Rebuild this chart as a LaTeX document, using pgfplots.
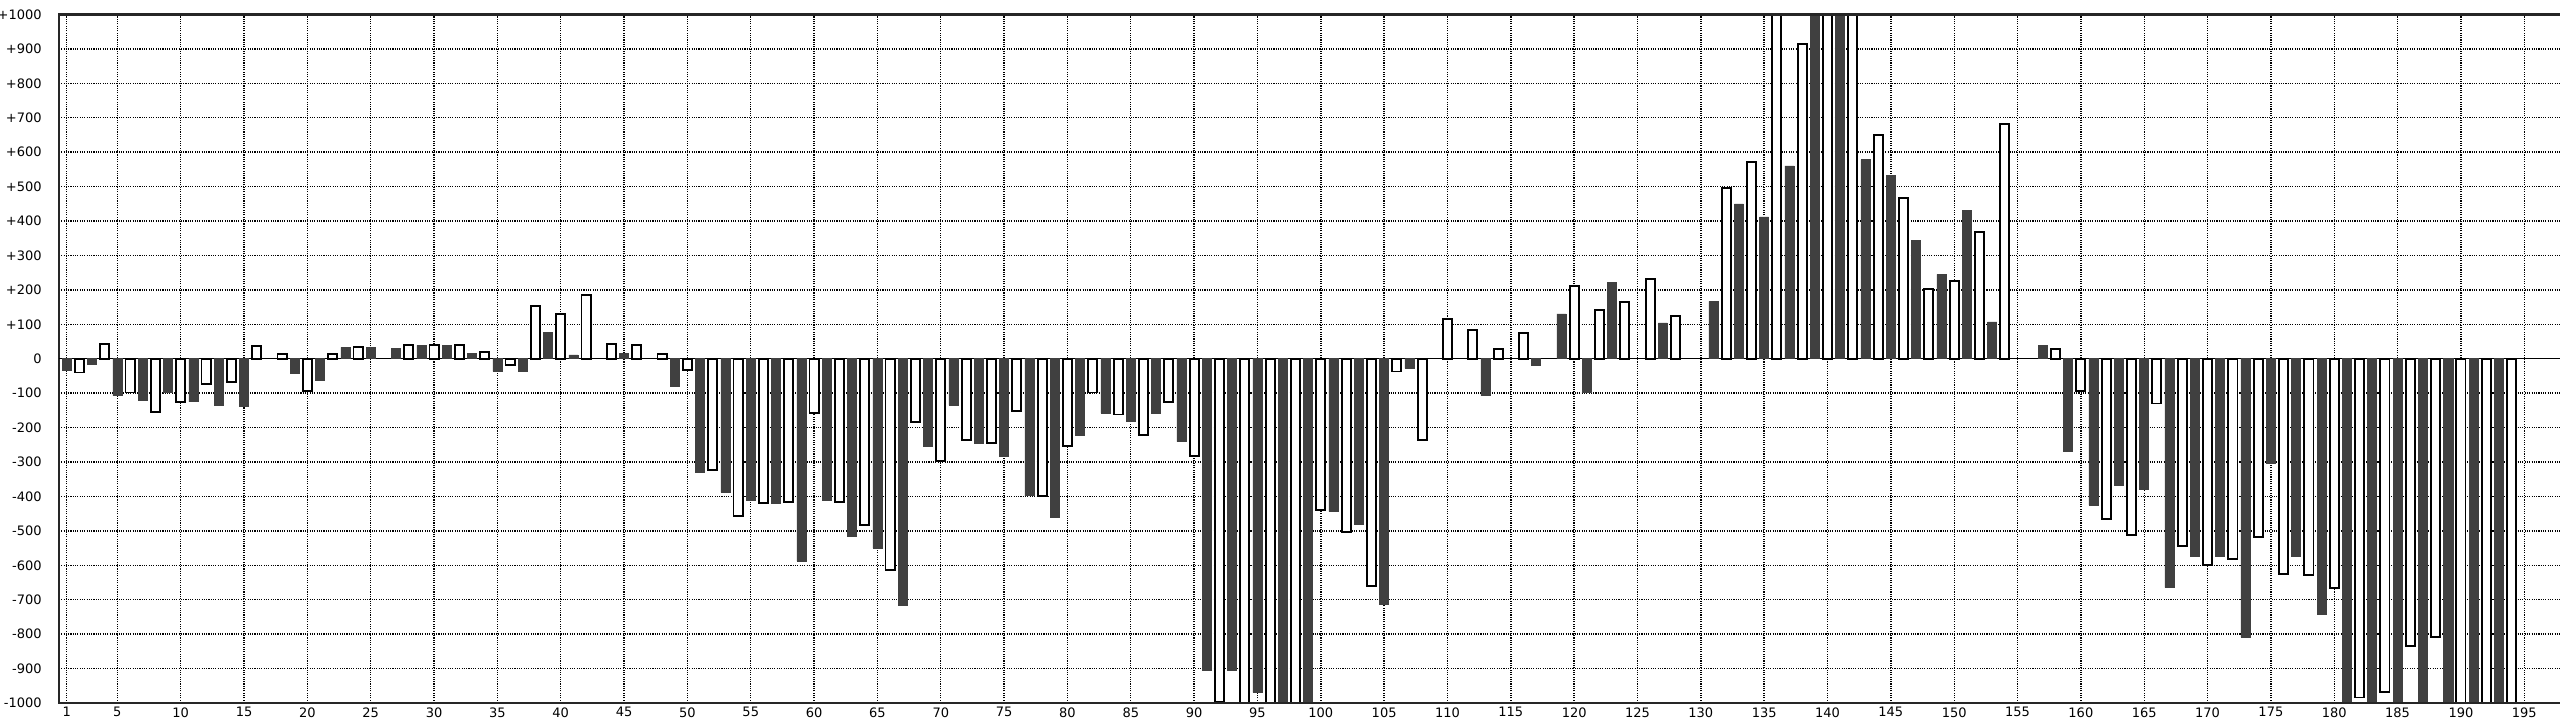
\documentclass[border=0pt]{standalone}
\usepackage{fontspec}
\setmainfont{DejaVu Sans}
\usepackage{pgfplots}
\pgfplotsset{compat=1.18}
\definecolor{darkbar}{RGB}{64,64,64}

\pgfplotstableread{
x y
1 -35
3 -16
5 -107
7 -120
9 -98
11 -125
13 -135
15 -139
19 -41
21 -62
23 33
25 33
27 29
29 39
31 39
33 15
35 -37
37 -37
39 76
41 11
45 16
49 -80
51 -329
53 -388
55 -412
57 -420
59 -588
61 -412
63 -517
65 -550
67 -716
69 -254
71 -135
73 -245
75 -282
77 -398
79 -462
81 -222
83 -158
85 -181
87 -158
89 -241
91 -905
93 -905
95 -969
97 -1100
99 -1100
101 -444
103 -481
105 -712
107 -28
113 -107
117 -20
119 130
121 -98
123 222
127 104
131 167
133 450
135 412
137 560
139 1100
141 1100
143 578
145 533
147 343
149 245
151 431
153 107
157 39
159 -269
161 -426
163 -369
165 -380
167 -665
169 -574
171 -574
173 -809
175 -305
177 -574
179 -743
181 -1100
183 -1100
185 -1100
187 -1100
189 -1100
191 -1100
193 -1100
}\darkdata

\pgfplotstableread{
x y
2 -40
4 43
6 -98
8 -154
10 -125
12 -74
14 -68
16 37
18 13
20 -94
22 13
24 33
28 39
30 39
32 39
34 19
36 -19
38 154
40 130
42 186
44 43
46 39
48 13
50 -32
52 -323
54 -456
56 -420
58 -415
60 -157
62 -415
64 -483
66 -613
68 -183
70 -296
72 -236
74 -245
76 -151
78 -398
80 -253
82 -98
84 -162
86 -221
88 -125
90 -282
92 -997
94 -1100
96 -1100
98 -1100
100 -439
102 -503
104 -660
106 -37
108 -236
110 115
112 83
114 27
116 74
120 212
122 142
124 166
126 232
128 124
132 497
134 572
136 1100
138 914
140 1100
142 1100
144 651
146 466
148 203
150 226
152 369
154 683
158 27
160 -94
162 -466
164 -513
166 -130
168 -545
170 -600
172 -581
174 -517
176 -624
178 -628
180 -665
182 -984
184 -968
186 -835
188 -809
190 -1100
192 -1100
194 -1100
}\whitedata

\begin{document}
\begin{tikzpicture}
\begin{axis}[
  name=ax,
  scale only axis,
  width=1252.5pt,
  height=344.25pt,
  xmin=0.392, xmax=198.14,
  ymin=-1000, ymax=1000,
  xtick={1,5,10,...,195},
  ytick={-1000,-900,-800,-700,-600,-500,-400,-300,-200,-100,0,100,200,300,400,500,600,700,800,900,1000},
  yticklabels={-1000,-900,-800,-700,-600,-500,-400,-300,-200,-100,0,+100,+200,+300,+400,+500,+600,+700,+800,+900,+1000},
  major tick length=0pt,
  tick label style={font=\fontsize{6.5}{7}\selectfont, inner sep=0pt},
  /pgf/number format/assume math mode=true,
  yticklabel style={anchor=east, xshift=-8.5pt},
  xticklabel style={anchor=north, yshift=-2pt},
  grid=major,
  major grid style={black, line width=0.7pt, dash pattern=on 0.55pt off 0.6pt},
  extra y ticks={0},
  extra y tick labels={},
  extra y tick style={grid=major, major grid style={black, solid, line width=0.7pt}},
  axis line style={black!85, line width=1.1pt},
  ybar, bar width=0.72, bar shift=0pt,
]
\addplot[ybar, bar shift=0pt, bar width=0.72, fill=darkbar, draw=darkbar, line width=0.3pt] table[x=x, y=y] {\darkdata};
\addplot[ybar, bar shift=0pt, bar width=0.72, fill=white, draw=black, line width=0.95pt] table[x=x, y=y] {\whitedata};
\end{axis}
\draw[black!85, line width=1.1pt] (ax.south west) -- (ax.south east);
\draw[black!85, line width=1.1pt] (ax.north west) -- (ax.north east);
\pgfresetboundingbox
\path[use as bounding box] ([xshift=-29.5pt, yshift=-8.5pt]ax.south west) rectangle ([xshift=-2pt, yshift=7.25pt]ax.north east);
\end{tikzpicture}
\end{document}
